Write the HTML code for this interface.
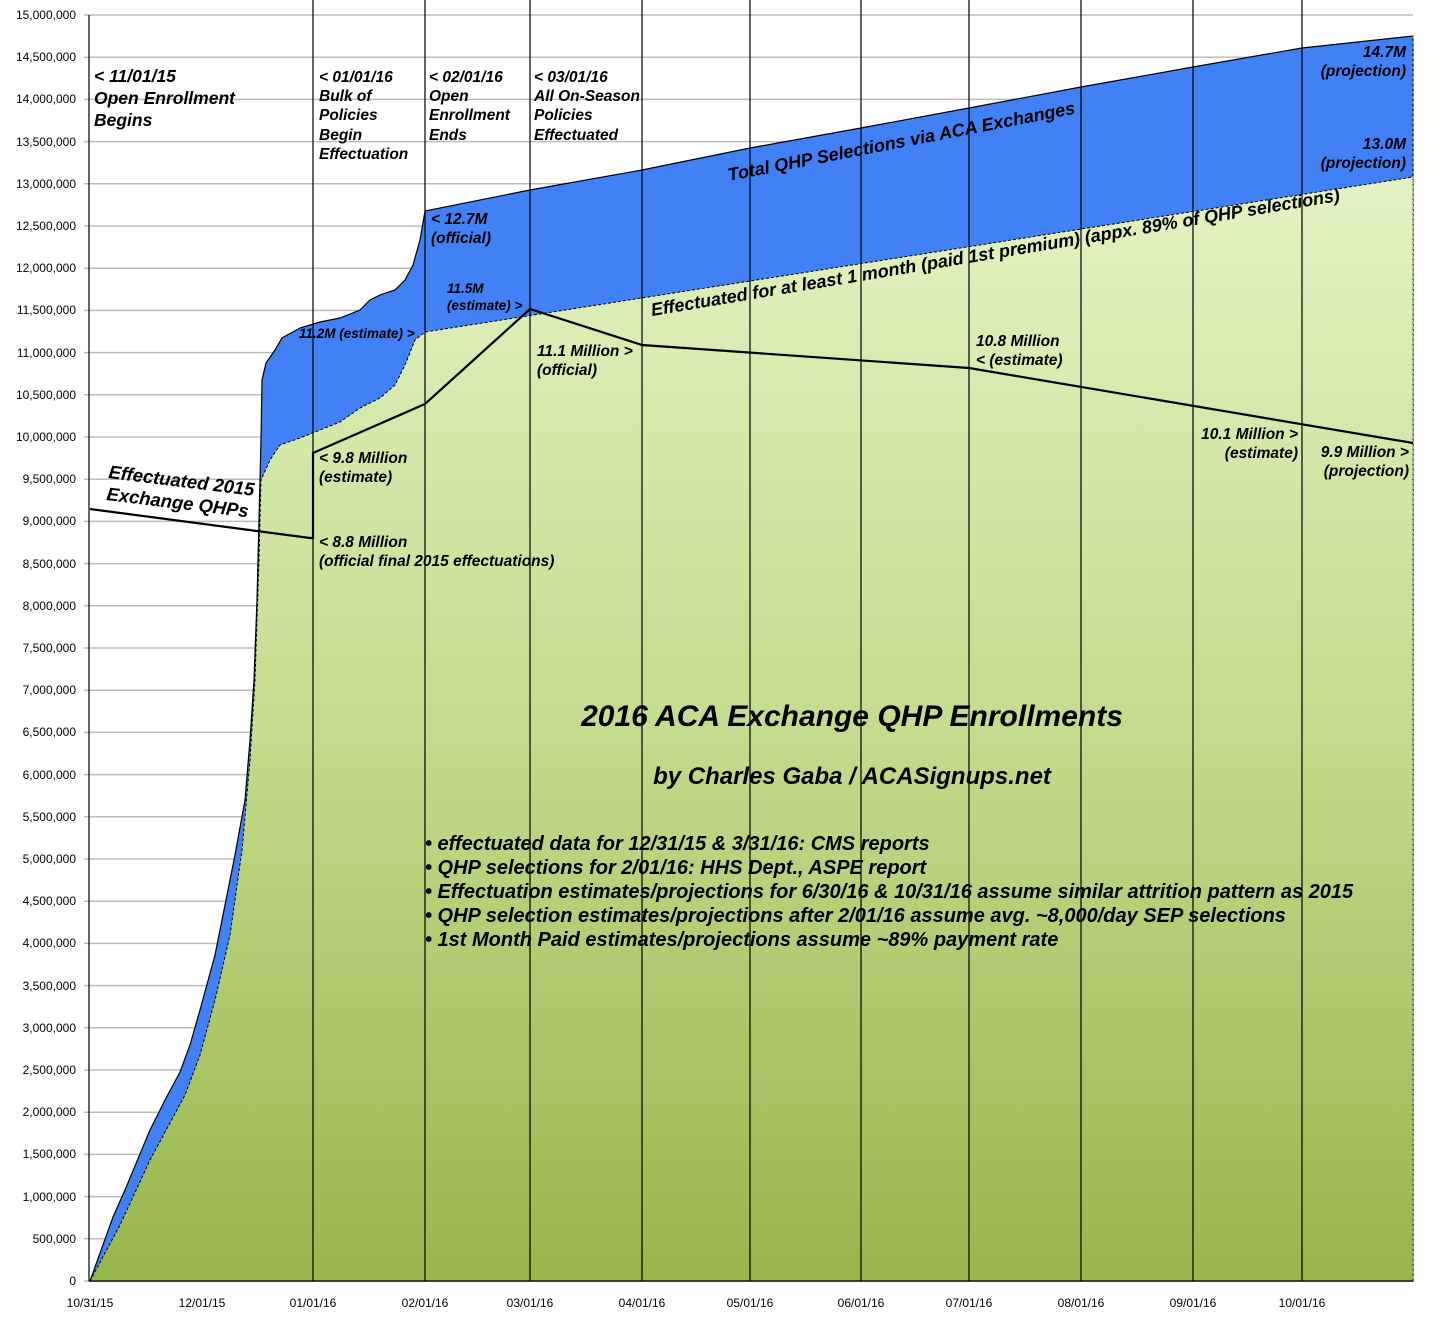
<!DOCTYPE html>
<html><head><meta charset="utf-8"><style>body{margin:0;background:#fff}svg{display:block}text{font-family:"Liberation Sans",sans-serif}</style></head><body>
<svg width="1452" height="1322" viewBox="0 0 1452 1322" xmlns="http://www.w3.org/2000/svg">
<defs><linearGradient id="g" x1="0" y1="0" x2="0" y2="1"><stop offset="0" stop-color="#e3f3c3"/><stop offset="0.5" stop-color="#c3dc8e"/><stop offset="1" stop-color="#98b54c"/></linearGradient></defs>
<g stroke="#bdbdbd" stroke-width="1.5">
<line x1="84" x2="1413" y1="1281" y2="1281"/><line x1="84" x2="1413" y1="1238.8" y2="1238.8"/><line x1="84" x2="1413" y1="1196.6" y2="1196.6"/><line x1="84" x2="1413" y1="1154.4" y2="1154.4"/><line x1="84" x2="1413" y1="1112.2" y2="1112.2"/><line x1="84" x2="1413" y1="1070" y2="1070"/><line x1="84" x2="1413" y1="1027.8" y2="1027.8"/><line x1="84" x2="1413" y1="985.6" y2="985.6"/><line x1="84" x2="1413" y1="943.4" y2="943.4"/><line x1="84" x2="1413" y1="901.2" y2="901.2"/><line x1="84" x2="1413" y1="859" y2="859"/><line x1="84" x2="1413" y1="816.8" y2="816.8"/><line x1="84" x2="1413" y1="774.6" y2="774.6"/><line x1="84" x2="1413" y1="732.4" y2="732.4"/><line x1="84" x2="1413" y1="690.2" y2="690.2"/><line x1="84" x2="1413" y1="648" y2="648"/><line x1="84" x2="1413" y1="605.8" y2="605.8"/><line x1="84" x2="1413" y1="563.6" y2="563.6"/><line x1="84" x2="1413" y1="521.4" y2="521.4"/><line x1="84" x2="1413" y1="479.2" y2="479.2"/><line x1="84" x2="1413" y1="437" y2="437"/><line x1="84" x2="1413" y1="394.8" y2="394.8"/><line x1="84" x2="1413" y1="352.6" y2="352.6"/><line x1="84" x2="1413" y1="310.4" y2="310.4"/><line x1="84" x2="1413" y1="268.2" y2="268.2"/><line x1="84" x2="1413" y1="226" y2="226"/><line x1="84" x2="1413" y1="183.8" y2="183.8"/><line x1="84" x2="1413" y1="141.6" y2="141.6"/><line x1="84" x2="1413" y1="99.4" y2="99.4"/><line x1="84" x2="1413" y1="57.2" y2="57.2"/><line x1="84" x2="1413" y1="15" y2="15"/>
</g>
<path fill="#4281f5" stroke="#000" stroke-width="1.2" d="M90,1281 L113,1217 125,1190 150,1130 165,1100 180,1072 190,1045 200,1010 215,955 225,905 235,855 245,800 250,740 254,680 257,600 259,520 261,440 262,380 266,363 275,350 282,338 300,328 320,322 340,318 360,310 370,300 380,295 395,290 405,280 413,265 420,240 425,211 530,190 642,170 750,148 861,128 969,108 1081,87 1193,67 1302,48 1413,36 L1413,1281 Z"/>
<path fill="url(#g)" stroke="#000" stroke-width="1" stroke-dasharray="3,2" d="M90,1281 L120,1225 150,1160 185,1095 200,1055 215,1000 230,935 242,850 250,760 255,680 259,560 261,480 270,460 280,445 300,438 315,432 340,422 360,408 380,398 395,385 405,365 415,340 425,332 1413,177 L1413,1281 Z"/>
<g stroke="#000" stroke-width="1.2">
<line x1="89" y1="15" x2="89" y2="1281"/>
<line x1="313" y1="0" x2="313" y2="1281"/><line x1="425" y1="0" x2="425" y2="1281"/><line x1="530" y1="0" x2="530" y2="1281"/><line x1="642" y1="0" x2="642" y2="1281"/><line x1="750" y1="0" x2="750" y2="1281"/><line x1="861" y1="0" x2="861" y2="1281"/><line x1="969" y1="0" x2="969" y2="1281"/><line x1="1081" y1="0" x2="1081" y2="1281"/><line x1="1193" y1="0" x2="1193" y2="1281"/><line x1="1302" y1="0" x2="1302" y2="1281"/>
<line x1="89" y1="1281" x2="1413" y2="1281"/>
</g>
<line x1="1413" y1="36" x2="1413" y2="1281" stroke="#888" stroke-dasharray="3,2"/>
<polyline fill="none" stroke="#000" stroke-width="2.2" points="90,509 310,538 313,538 313,453 425,404 530,309 642,345 969,368 1413,443"/>
<g font-size="12" text-anchor="end">
<text x="76" y="1285">0</text><text x="76" y="1243">500,000</text><text x="76" y="1201">1,000,000</text><text x="76" y="1158">1,500,000</text><text x="76" y="1116">2,000,000</text><text x="76" y="1074">2,500,000</text><text x="76" y="1032">3,000,000</text><text x="76" y="990">3,500,000</text><text x="76" y="947">4,000,000</text><text x="76" y="905">4,500,000</text><text x="76" y="863">5,000,000</text><text x="76" y="821">5,500,000</text><text x="76" y="779">6,000,000</text><text x="76" y="736">6,500,000</text><text x="76" y="694">7,000,000</text><text x="76" y="652">7,500,000</text><text x="76" y="610">8,000,000</text><text x="76" y="568">8,500,000</text><text x="76" y="525">9,000,000</text><text x="76" y="483">9,500,000</text><text x="76" y="441">10,000,000</text><text x="76" y="399">10,500,000</text><text x="76" y="357">11,000,000</text><text x="76" y="314">11,500,000</text><text x="76" y="272">12,000,000</text><text x="76" y="230">12,500,000</text><text x="76" y="188">13,000,000</text><text x="76" y="146">13,500,000</text><text x="76" y="103">14,000,000</text><text x="76" y="61">14,500,000</text><text x="76" y="19">15,000,000</text>
</g>
<g font-size="12" text-anchor="middle">
<text x="90" y="1307">10/31/15</text><text x="202" y="1307">12/01/15</text><text x="313" y="1307">01/01/16</text><text x="425" y="1307">02/01/16</text><text x="530" y="1307">03/01/16</text><text x="642" y="1307">04/01/16</text><text x="750" y="1307">05/01/16</text><text x="861" y="1307">06/01/16</text><text x="969" y="1307">07/01/16</text><text x="1081" y="1307">08/01/16</text><text x="1193" y="1307">09/01/16</text><text x="1302" y="1307">10/01/16</text>
</g>
<g font-style="italic" font-weight="bold" fill="#000">
<g font-size="17.5"><text x="94" y="82">&lt; 11/01/15</text><text x="94" y="104">Open Enrollment</text><text x="94" y="126">Begins</text></g>
<g font-size="15.5"><text x="319" y="82">&lt; 01/01/16</text><text x="319" y="101">Bulk of</text><text x="319" y="120">Policies</text><text x="319" y="140">Begin</text><text x="319" y="159">Effectuation</text>
<text x="429" y="82">&lt; 02/01/16</text><text x="429" y="101">Open</text><text x="429" y="120">Enrollment</text><text x="429" y="140">Ends</text>
<text x="534" y="82">&lt; 03/01/16</text><text x="534" y="101">All On-Season</text><text x="534" y="120">Policies</text><text x="534" y="140">Effectuated</text>
<text x="1406" y="57" text-anchor="end">14.7M</text><text x="1406" y="76" text-anchor="end">(projection)</text>
<text x="1406" y="149" text-anchor="end">13.0M</text><text x="1406" y="168" text-anchor="end">(projection)</text>
<text x="431" y="224">&lt; 12.7M</text><text x="431" y="243">(official)</text>
<text x="537" y="356">11.1 Million &gt;</text><text x="537" y="375">(official)</text>
<text x="976" y="346">10.8 Million</text><text x="976" y="365">&lt; (estimate)</text>
<text x="1298" y="439" text-anchor="end">10.1 Million &gt;</text><text x="1298" y="458" text-anchor="end">(estimate)</text>
<text x="1409" y="457" text-anchor="end">9.9 Million &gt;</text><text x="1409" y="476" text-anchor="end">(projection)</text>
<text x="319" y="463">&lt; 9.8 Million</text><text x="319" y="482">(estimate)</text>
<text x="319" y="547">&lt; 8.8 Million</text><text x="319" y="566">(official final 2015 effectuations)</text></g>
<g font-size="13.5"><text x="299" y="338">11.2M (estimate) &gt;</text><text x="447" y="293">11.5M</text><text x="447" y="310">(estimate) &gt;</text></g>
<g font-size="18.5"><text transform="translate(108,478) rotate(7)">Effectuated 2015</text><text transform="translate(106,500) rotate(7)">Exchange QHPs</text></g>
<text font-size="18" transform="translate(729,181) rotate(-11)">Total QHP Selections via ACA Exchanges</text>
<text font-size="18" transform="translate(652,316) rotate(-9.5)">Effectuated for at least 1 month (paid 1st premium) (appx. 89% of QHP selections)</text>
<text x="852" y="726" font-size="30" text-anchor="middle">2016 ACA Exchange QHP Enrollments</text>
<text x="852" y="784" font-size="24" text-anchor="middle">by Charles Gaba / ACASignups.net</text>
<g font-size="20"><text x="425" y="850">• effectuated data for 12/31/15 &amp; 3/31/16: CMS reports</text><text x="425" y="874">• QHP selections for 2/01/16: HHS Dept., ASPE report</text><text x="425" y="898">• Effectuation estimates/projections for 6/30/16 &amp; 10/31/16 assume similar attrition pattern as 2015</text><text x="425" y="922">• QHP selection estimates/projections after 2/01/16 assume avg. ~8,000/day SEP selections</text><text x="425" y="946">• 1st Month Paid estimates/projections assume ~89% payment rate</text></g>
</g>
</svg>
</body></html>
